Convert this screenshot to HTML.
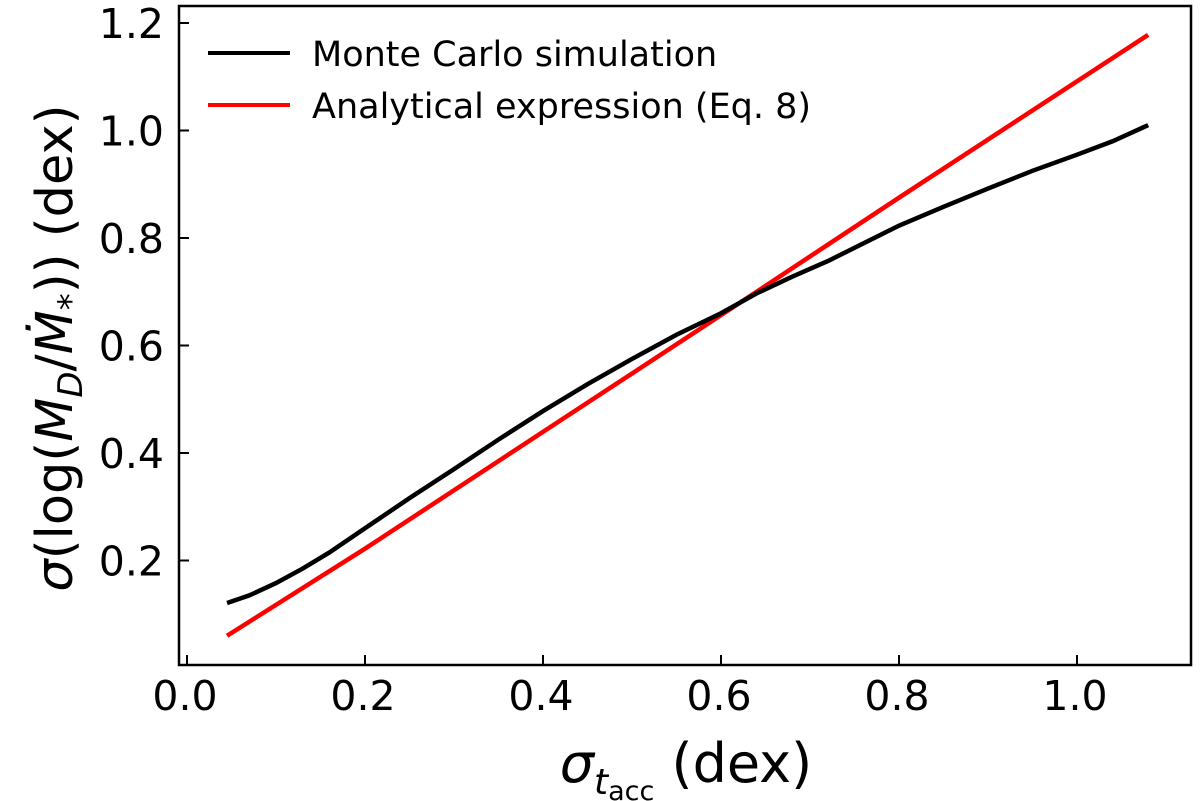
<!DOCTYPE html>
<html><head><meta charset="utf-8"><style>
body{margin:0;background:#fff;}
svg{display:block;font-family:"DejaVu Sans","Liberation Sans",sans-serif;}
</style></head><body>
<svg id="chart" width="1200" height="801">
<rect x="179" y="6" width="1012" height="659" fill="none" stroke="#000" stroke-width="2.5"/>
<g id="xt"></g>
<g id="yt"></g>
<g id="series"></g>
<text x="686" y="782" font-size="54" text-anchor="middle"><tspan font-style="italic">σ</tspan><tspan font-style="italic" font-size="36" dy="12">t</tspan><tspan font-size="27" dy="6">acc</tspan><tspan dy="-18"> (dex)</tspan></text>
<text transform="translate(72,348) rotate(-90)" font-size="51" text-anchor="middle"><tspan font-style="italic">σ</tspan>(log(<tspan font-style="italic">M</tspan><tspan font-style="italic" font-size="34" dy="10">D</tspan><tspan dy="-10">/</tspan><tspan font-style="italic">Ṁ</tspan><tspan font-size="34" dy="10">*</tspan><tspan dy="-10">))  (dex)</tspan></text>
<g>
<line x1="208" y1="53" x2="290" y2="53" stroke="#000" stroke-width="4"/>
<text x="312" y="66" font-size="35">Monte Carlo simulation</text>
<line x1="208" y1="105" x2="290" y2="105" stroke="#f00" stroke-width="4"/>
<text x="312" y="118" font-size="35">Analytical expression (Eq. 8)</text>
</g>
</svg>
<script>
const xTicks=[0.0,0.2,0.4,0.6,0.8,1.0];
const yTicks=[0.2,0.4,0.6,0.8,1.0,1.2];
const mcX=[0.045,0.07,0.1,0.13,0.16,0.2,0.25,0.3,0.35,0.4,0.45,0.5,0.55,0.6,0.64,0.68,0.72,0.76,0.8,0.85,0.9,0.95,1.0,1.04,1.08];
const mcY=[0.121,0.135,0.158,0.185,0.215,0.26,0.316,0.37,0.425,0.478,0.528,0.575,0.62,0.66,0.697,0.728,0.757,0.79,0.823,0.858,0.892,0.925,0.955,0.98,1.01];
const anX=[0.045,0.2,0.397,0.64,0.8,1.08];
const anY=[0.06,0.222,0.436,0.70,0.875,1.178];
const sx=v=>187+v*890;
const sy=v=>23+(1.2-v)*537.5;
const NS='http://www.w3.org/2000/svg';
const xt=document.getElementById('xt'),yt=document.getElementById('yt'),sg=document.getElementById('series');
xTicks.forEach(t=>{
 const l=document.createElementNS(NS,'line');
 l.setAttribute('x1',sx(t));l.setAttribute('x2',sx(t));l.setAttribute('y1',665);l.setAttribute('y2',655);l.setAttribute('stroke','#000');l.setAttribute('stroke-width','2');
 
 
 xt.appendChild(l);
 const tx=document.createElementNS(NS,'text');
 tx.setAttribute('x',sx(t)-2);tx.setAttribute('y',710);tx.setAttribute('font-size','41');tx.setAttribute('text-anchor','middle');
 tx.textContent=t.toFixed(1);
 
 
 xt.appendChild(tx);
});
yTicks.forEach(t=>{
 const l=document.createElementNS(NS,'line');
 l.setAttribute('x1',179);l.setAttribute('x2',189);l.setAttribute('y1',sy(t));l.setAttribute('y2',sy(t));l.setAttribute('stroke','#000');l.setAttribute('stroke-width','2');
 
 
 yt.appendChild(l);
 const tx=document.createElementNS(NS,'text');
 tx.setAttribute('x',164);tx.setAttribute('y',sy(t)+15);tx.setAttribute('font-size','41');tx.setAttribute('text-anchor','end');
 tx.textContent=t.toFixed(1);
 
 
 yt.appendChild(tx);
});
function line(xs,ys,c){
 const p=document.createElementNS(NS,'polyline');
 p.setAttribute('points',xs.map((x,i)=>sx(x)+','+sy(ys[i])).join(' '));
 p.setAttribute('fill','none');p.setAttribute('stroke',c);p.setAttribute('stroke-width','4.5');
 sg.appendChild(p);return p;
}
const a=line(anX,anY,'#f00');


const m=line(mcX,mcY,'#000');


</script>
</body></html>
